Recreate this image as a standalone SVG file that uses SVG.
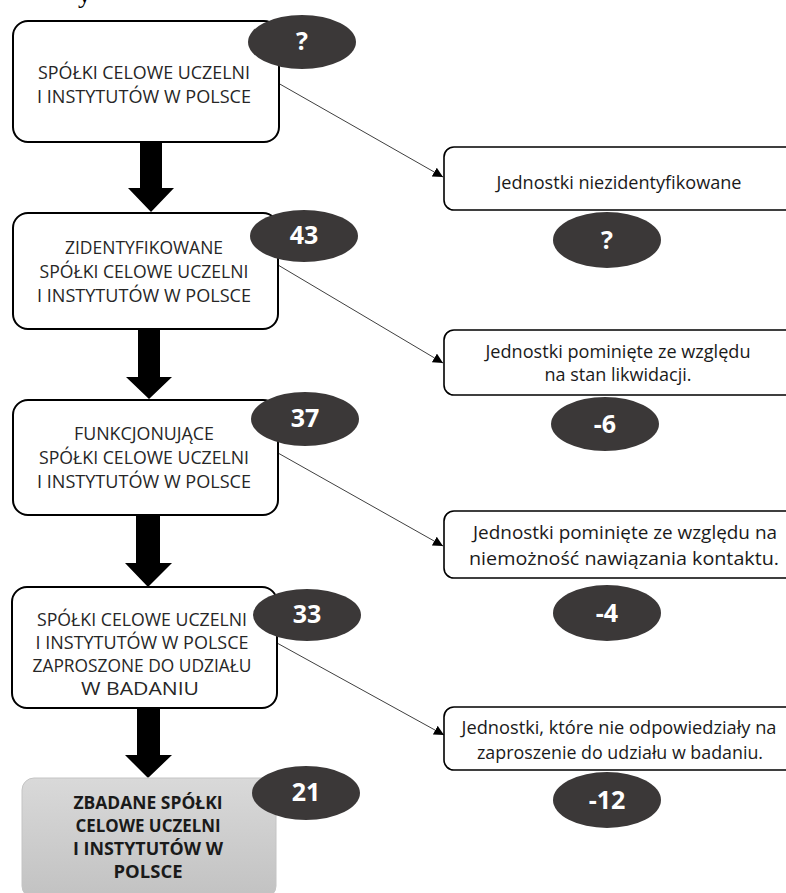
<svg xmlns="http://www.w3.org/2000/svg" width="786" height="893" viewBox="0 0 786 893">
<defs>
<style>
.box{fill:#fff;stroke:#000;stroke-width:2}
.rbox{fill:#fff;stroke:#000;stroke-width:1.6}
.gbox{fill:url(#gg);stroke:#c4c4c4;stroke-width:1}
.el{fill:#3b3838}
.t{font-family:"Open Sans","Noto Sans",sans-serif;font-size:19px;fill:#262626;text-anchor:middle}
.t4{font-family:"Open Sans","Noto Sans",sans-serif;font-size:18px;fill:#262626;text-anchor:middle}
.tb{font-family:"Open Sans","Noto Sans",sans-serif;font-size:18px;font-weight:bold;fill:#1a1a1a;text-anchor:middle}
.rt{font-family:"Open Sans","Noto Sans",sans-serif;font-size:17.5px;fill:#1a1a1a;text-anchor:middle}
.n{font-family:"Open Sans","Noto Sans",sans-serif;font-size:25px;font-weight:bold;fill:#fff;text-anchor:middle}
.big{fill:#000}
.ln{stroke:#404040;stroke-width:1;fill:none;marker-end:url(#ah)}
</style>
<linearGradient id="gg" x1="0" y1="0" x2="0" y2="1">
<stop offset="0" stop-color="#d9d9d9"/>
<stop offset="1" stop-color="#c2c2c2"/>
</linearGradient>
<marker id="ah" viewBox="0 0 10 10" refX="10" refY="5" markerWidth="10" markerHeight="10" markerUnits="userSpaceOnUse" orient="auto">
<path d="M0,0 L10,5 L0,10 z" fill="#000"/>
</marker>
</defs>

<text x="78" y="3" font-family="Liberation Serif, serif" font-size="26" fill="#000">y</text>

<g id="connectors">
<polygon class="big" points="140,142 162,142 162,188 174,188 151,212 128,188 140,188"/>
<polygon class="big" points="138,329 160,329 160,377 172,377 149,399 126,377 138,377"/>
<polygon class="big" points="136,515 160,515 160,563 172,563 148,587 125,563 136,563"/>
<polygon class="big" points="137,708 160,708 160,755 172,755 148,778 125,755 137,755"/>
<line class="ln" x1="278" y1="83" x2="443" y2="177"/>
<line class="ln" x1="278" y1="265" x2="443" y2="363"/>
<line class="ln" x1="278" y1="453" x2="443" y2="546"/>
<line class="ln" x1="277" y1="643" x2="444" y2="735"/>
</g>

<g id="n1">
<rect class="box" x="13" y="21" width="266" height="121" rx="15"/>
<text class="t" x="144" y="79" textLength="212" lengthAdjust="spacingAndGlyphs">SPÓŁKI CELOWE UCZELNI</text>
<text class="t" x="144" y="103" textLength="214" lengthAdjust="spacingAndGlyphs">I INSTYTUTÓW W POLSCE</text>
</g>
<g id="n2">
<rect class="box" x="13" y="213" width="265" height="116" rx="15"/>
<text class="t" x="144" y="254" textLength="158" lengthAdjust="spacingAndGlyphs">ZIDENTYFIKOWANE</text>
<text class="t" x="144" y="278" textLength="209" lengthAdjust="spacingAndGlyphs">SPÓŁKI CELOWE UCZELNI</text>
<text class="t" x="144" y="302" textLength="214" lengthAdjust="spacingAndGlyphs">I INSTYTUTÓW W POLSCE</text>
</g>
<g id="n3">
<rect class="box" x="13" y="400" width="265" height="115" rx="15"/>
<text class="t" x="144" y="440" textLength="140" lengthAdjust="spacingAndGlyphs">FUNKCJONUJĄCE</text>
<text class="t" x="144" y="464" textLength="210" lengthAdjust="spacingAndGlyphs">SPÓŁKI CELOWE UCZELNI</text>
<text class="t" x="144" y="488" textLength="214" lengthAdjust="spacingAndGlyphs">I INSTYTUTÓW W POLSCE</text>
</g>
<g id="n4">
<rect class="box" x="12" y="587" width="265" height="121" rx="15"/>
<text class="t4" x="142" y="626" textLength="210" lengthAdjust="spacingAndGlyphs">SPÓŁKI CELOWE UCZELNI</text>
<text class="t4" x="142" y="649" textLength="213" lengthAdjust="spacingAndGlyphs">I INSTYTUTÓW W POLSCE</text>
<text class="t4" x="142" y="672" textLength="219" lengthAdjust="spacingAndGlyphs">ZAPROSZONE DO UDZIAŁU</text>
<text class="t4" x="140" y="695" textLength="118" lengthAdjust="spacingAndGlyphs">W BADANIU</text>
</g>
<g id="n5">
<rect class="gbox" x="22" y="778" width="254" height="120" rx="12"/>
<text class="tb" x="148" y="809" textLength="149" lengthAdjust="spacingAndGlyphs">ZBADANE SPÓŁKI</text>
<text class="tb" x="148" y="832" textLength="145" lengthAdjust="spacingAndGlyphs">CELOWE UCZELNI</text>
<text class="tb" x="148" y="855" textLength="150" lengthAdjust="spacingAndGlyphs">I INSTYTUTÓW W</text>
<text class="tb" x="148" y="878" textLength="69" lengthAdjust="spacingAndGlyphs">POLSCE</text>
</g>

<g id="r1">
<rect class="rbox" x="444" y="147" width="360" height="63" rx="10"/>
<text class="rt" x="619" y="189" textLength="245" lengthAdjust="spacingAndGlyphs">Jednostki niezidentyfikowane</text>
</g>
<g id="r2">
<rect class="rbox" x="444" y="330" width="360" height="65" rx="10"/>
<text class="rt" x="618" y="358" textLength="265" lengthAdjust="spacingAndGlyphs">Jednostki pominięte ze względu</text>
<text class="rt" x="618" y="381" textLength="147" lengthAdjust="spacingAndGlyphs">na stan likwidacji.</text>
</g>
<g id="r3">
<rect class="rbox" x="444" y="511" width="360" height="67" rx="10"/>
<text class="rt" x="625" y="539" textLength="304" lengthAdjust="spacingAndGlyphs">Jednostki pominięte ze względu na</text>
<text class="rt" x="624" y="565" textLength="310" lengthAdjust="spacingAndGlyphs">niemożność nawiązania kontaktu.</text>
</g>
<g id="r4">
<rect class="rbox" x="444" y="707" width="360" height="63" rx="10"/>
<text class="rt" x="619" y="734" textLength="315" lengthAdjust="spacingAndGlyphs">Jednostki, które nie odpowiedziały na</text>
<text class="rt" x="620" y="759" textLength="286" lengthAdjust="spacingAndGlyphs">zaproszenie do udziału w badaniu.</text>
</g>

<g id="e1"><ellipse class="el" cx="302" cy="42" rx="54" ry="27"/><text class="n" x="302" y="50">?</text></g>
<g id="e2"><ellipse class="el" cx="304" cy="236" rx="54" ry="26"/><text class="n" x="304" y="244">43</text></g>
<g id="e3"><ellipse class="el" cx="305" cy="419" rx="54" ry="27"/><text class="n" x="305" y="427">37</text></g>
<g id="e4"><ellipse class="el" cx="307" cy="615" rx="54" ry="26"/><text class="n" x="307" y="623">33</text></g>
<g id="e5"><ellipse class="el" cx="306" cy="793" rx="54" ry="27"/><text class="n" x="306" y="801">21</text></g>
<g id="e6"><ellipse class="el" cx="607" cy="240" rx="54" ry="28"/><text class="n" x="607" y="249">?</text></g>
<g id="e7"><ellipse class="el" cx="605" cy="424" rx="54" ry="27"/><text class="n" x="605" y="433">-6</text></g>
<g id="e8"><ellipse class="el" cx="607" cy="613" rx="54" ry="28"/><text class="n" x="607" y="622">-4</text></g>
<g id="e9"><ellipse class="el" cx="607" cy="800" rx="54" ry="28"/><text class="n" x="607" y="809">-12</text></g>
</svg>
